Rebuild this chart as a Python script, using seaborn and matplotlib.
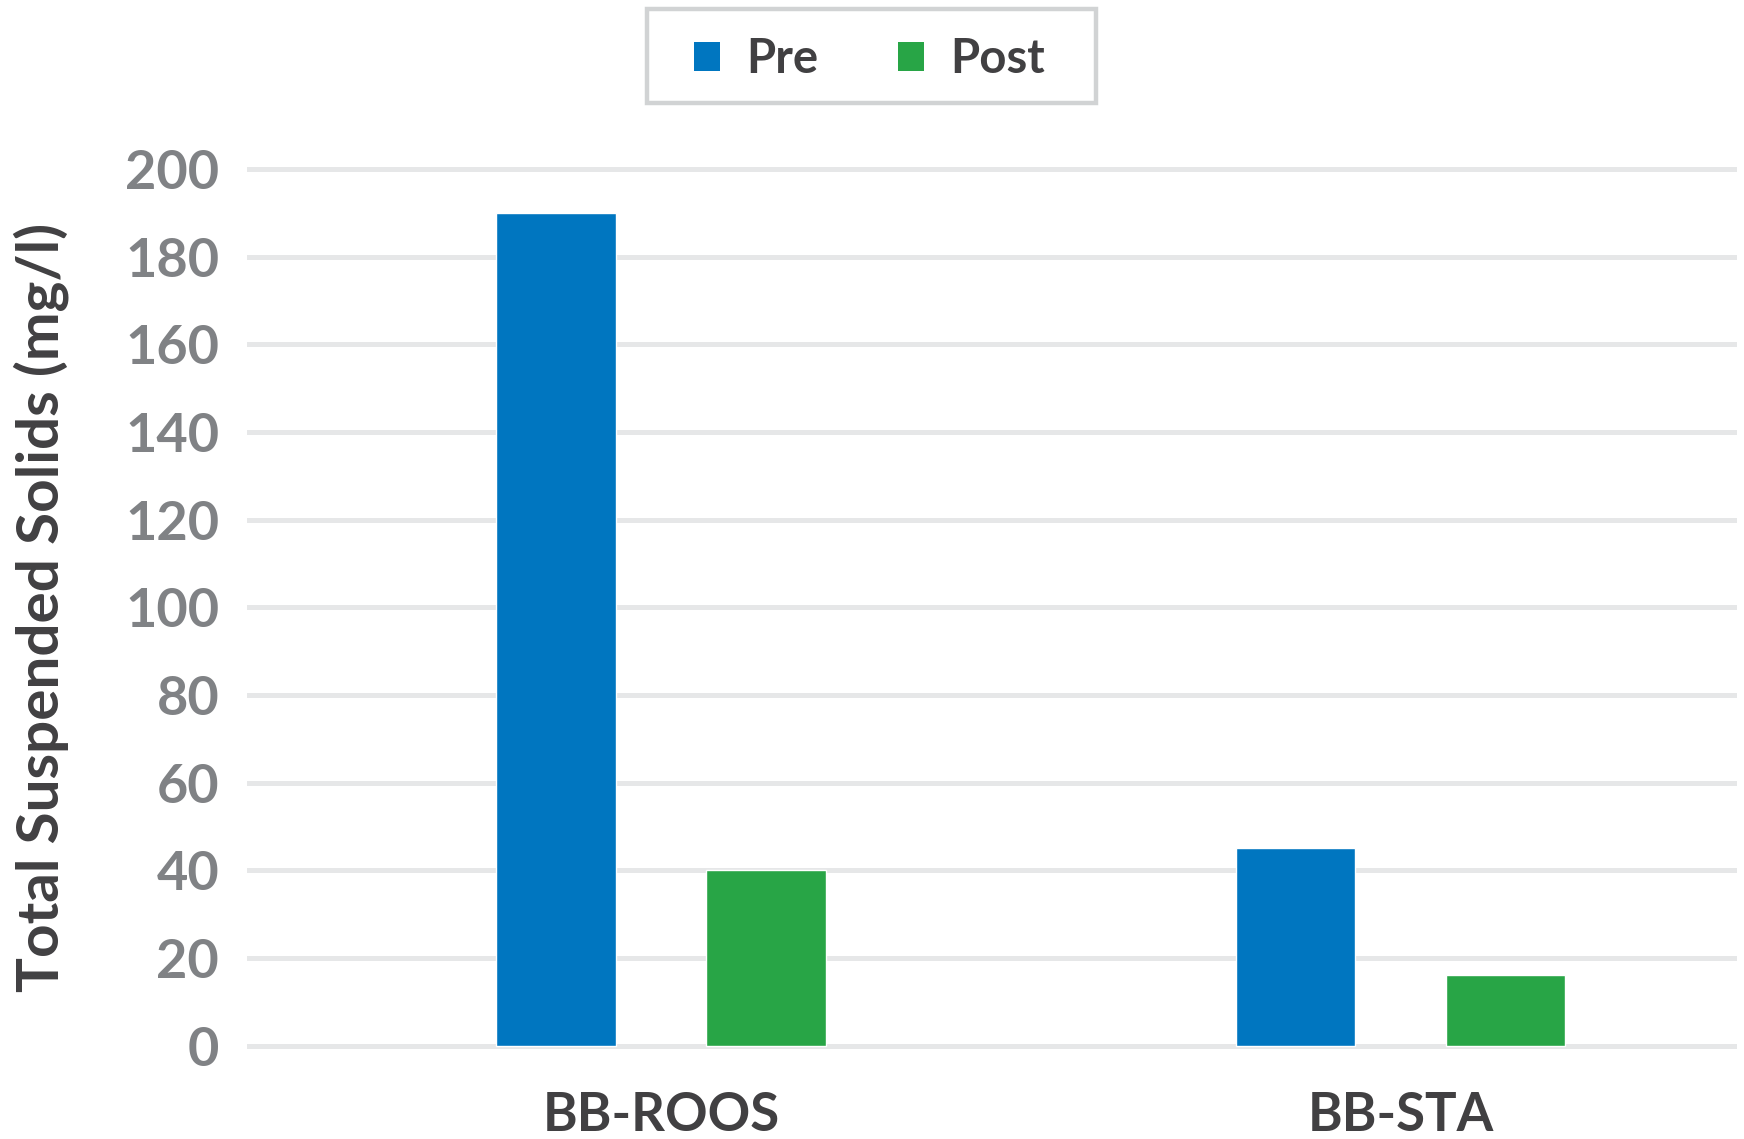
import matplotlib
matplotlib.use("Agg")
import matplotlib.pyplot as plt
import seaborn as sns
import pandas as pd
from matplotlib.patches import Patch, Rectangle

# Total suspended solids at each site, before and after treatment
sites = ["BB-ROOS", "BB-STA"]
pre_values = [190, 45]
post_values = [40, 16]
periods = ["Pre", "Post"]
y_ticks = [0, 20, 40, 60, 80, 100, 120, 140, 160, 180, 200]

df = pd.DataFrame({
    "Site": sites * 2,
    "Period": [periods[0]] * len(sites) + [periods[1]] * len(sites),
    "TSS": pre_values + post_values,
})

sns.set_theme(style="white")
plt.rcParams["font.family"] = ["Lato", "DejaVu Sans"]

blue = "#0076C0"
green = "#28A546"
tick_gray = "#808285"
text_dark = "#414042"
grid_gray = "#E6E7E8"

fig = plt.figure(figsize=(17.44, 11.39), dpi=100)
ax = fig.add_axes([0.1416, 0.0763, 0.996 - 0.1416, 0.8574 - 0.0763])

sns.barplot(data=df, x="Site", y="TSS", hue="Period", hue_order=periods,
            palette=[blue, green], width=0.568, gap=0.43, saturation=1,
            ax=ax, legend=False, zorder=3)

ax.set_ylim(-1.5, 201.5)
ax.set_xlim(-0.56, 1.455)
ax.set_yticks(y_ticks)
ax.set_yticklabels([str(t) for t in y_ticks])
ax.yaxis.grid(True, color=grid_gray, linewidth=3.6, zorder=0)
ax.set_axisbelow(True)
for s in ax.spines.values():
    s.set_visible(False)
ax.tick_params(axis="y", length=0, pad=20, labelsize=39, labelcolor=tick_gray)
ax.tick_params(axis="x", length=0, pad=28, labelsize=38, labelcolor=text_dark)
for lab in ax.get_yticklabels() + ax.get_xticklabels():
    lab.set_fontweight("bold")
ax.set_xlabel("")
ax.set_ylabel("Total Suspended Solids (mg/l)", fontsize=42, fontweight="bold",
              color=text_dark, labelpad=40)

# Legend entries, with a separate box drawn around them
handles = [Patch(facecolor=blue, edgecolor="none"), Patch(facecolor=green, edgecolor="none")]
leg = fig.legend(handles, periods, loc="center", bbox_to_anchor=(0.4985, 0.948),
                 ncol=2, frameon=False, fontsize=34,
                 handlelength=0.55, handleheight=0.55, handletextpad=0.55,
                 columnspacing=1.7, borderpad=0.5, borderaxespad=0)
for t in leg.get_texts():
    t.set_color(text_dark)
    t.set_fontweight("bold")
fig.patches.append(Rectangle((647 / 1744, 1 - 103 / 1139), 449 / 1744, 94 / 1139,
                             transform=fig.transFigure, facecolor="none",
                             edgecolor="#D1D3D4", linewidth=3.2))

fig.savefig("out.png", dpi=100, facecolor="white")
